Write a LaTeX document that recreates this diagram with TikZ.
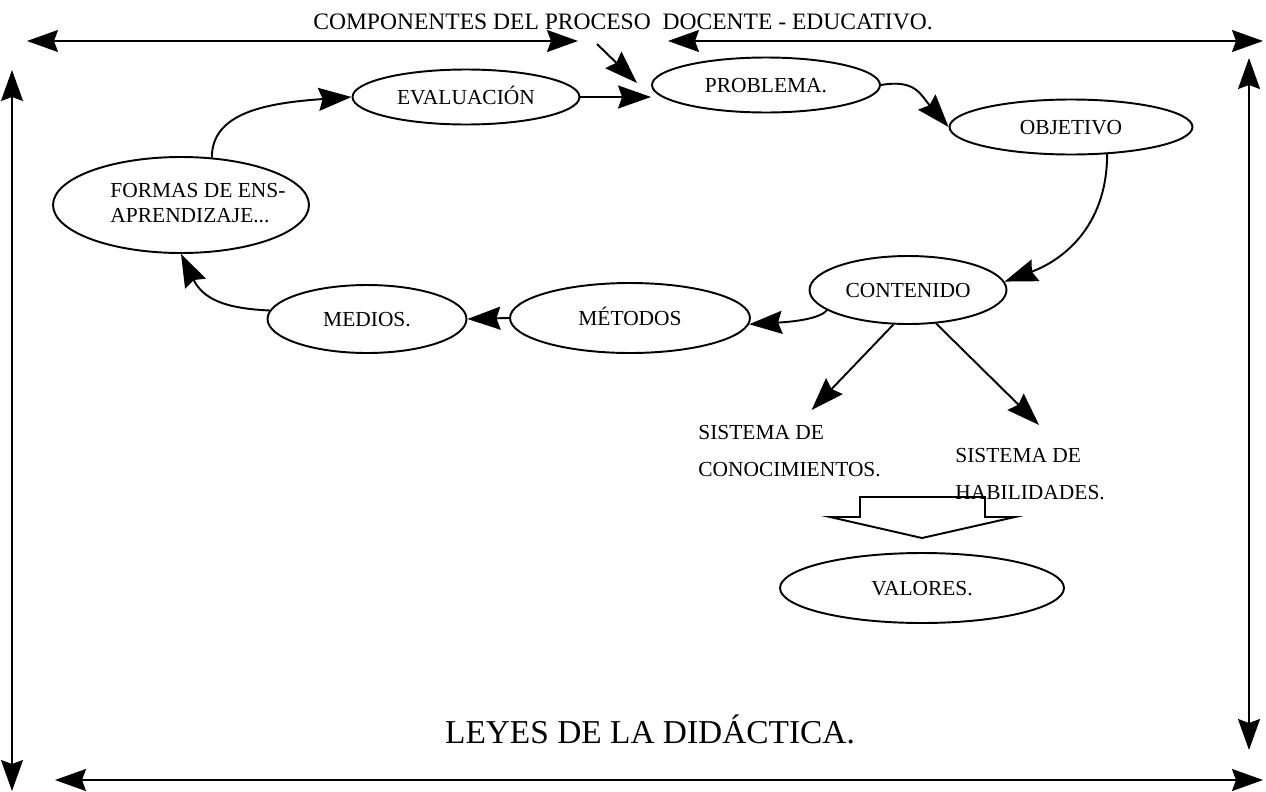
\documentclass[tikz,border=0pt]{standalone}
\usepackage{fontspec}
\setmainfont{Liberation Serif}
\usetikzlibrary{arrows.meta,calc,shapes.geometric}

\begin{document}
\begin{tikzpicture}[x=0.02cm, y=-0.02cm,
		arr/.style={-{Stealth[length=0.66cm, width=0.46cm, inset=0.08cm]}, line width=1.1pt},
		twoway/.style={{Stealth[length=0.62cm, width=0.44cm, inset=0.08cm]}-{Stealth[length=0.62cm, width=0.44cm, inset=0.08cm]}, line width=1.1pt},
		oval/.style={ellipse, draw, line width=1.1pt, inner sep=0pt, font=\fontsize{12.2}{14.2}\selectfont, text height=8.1pt, text depth=0pt},
		txt/.style={inner sep=0pt, font=\fontsize{12.2}{21}\selectfont, align=left}]
			%%%%% START %%%%%
			
			\useasboundingbox (0, 0) rectangle (1266, 791);
			
			\node[inner sep=0pt, anchor=base, font=\fontsize{13.4}{16}\selectfont] (title) at (623, 30) {COMPONENTES DEL PROCESO\ \ DOCENTE - EDUCATIVO.};
			\node[inner sep=0pt, anchor=base, font=\fontsize{19}{22}\selectfont] (leyes) at (650, 743) {LEYES DE LA DIDÁCTICA.};
			
			\draw[twoway] (27, 41) -- (578, 41);
			\draw[twoway] (668, 41) -- (1263, 41);
			\draw[twoway] (12, 70) -- (12, 791);
			\draw[twoway] (1249, 58) -- (1249, 750);
			\draw[twoway] (55, 780) -- (1263, 780);
			
			\node[oval, minimum width=4.54cm, minimum height=1.1cm] (eval) at (466, 97) {EVALUACIÓN};
			\node[oval, minimum width=4.56cm, minimum height=1.1cm] (prob) at (766, 85) {PROBLEMA.};
			\node[oval, minimum width=4.86cm, minimum height=1.1cm] (obj) at (1071, 127) {OBJETIVO};
			\node[oval, minimum width=5.12cm, minimum height=1.92cm] (formas) at (181, 205) {};
			\node[txt, font=\fontsize{12.2}{14.2}\selectfont] (formastxt) at (198, 203) {FORMAS DE ENS-\\APRENDIZAJE...};
			\node[oval, minimum width=3.94cm, minimum height=1.36cm] (cont) at (908, 290) {CONTENIDO};
			\node[oval, minimum width=4.8cm, minimum height=1.4cm] (met) at (630, 318) {MÉTODOS};
			\node[oval, minimum width=3.98cm, minimum height=1.36cm] (med) at (367, 319) {MEDIOS.};
			\node[oval, minimum width=5.68cm, minimum height=1.4cm] (val) at (922, 588) {VALORES.};
			
			\node[txt, anchor=north west] (sis1) at (698, 425) {SISTEMA DE\\CONOCIMIENTOS.};
			\node[txt, anchor=north west] (sis2) at (955, 448) {SISTEMA DE\\HABILIDADES.};
			
			\coordinate (diagtop) at (597, 44);
			\draw[arr] (diagtop) -- ($(prob.west)+(-14, -2)$);
			
			\draw[arr] (formas.57) .. controls +(0, -45) and +(-85, 6) .. (eval.west);
			\draw[arr] (eval.east) -- (eval.east -| prob.west);
			\draw[arr] (prob.east) .. controls +(35, -6) and +(-28, -32) .. (obj.west);
			\draw[arr] (obj.323) .. controls +(0, 75) and +(55, -20) .. (cont.5);
			\draw[arr] (cont.194) .. controls +(-8, 10) and +(35, -2) .. (met.-3);
			\draw[arr] (met.west) -- (med.east);
			\draw[arr] (med.175) .. controls +(-45, -2) and +(22, 45) .. (formas.south);
			
			\draw[arr] (cont.247) -- ($(sis1.north)+(22, -15)$);
			\draw[arr] (cont.-50) -- ($(sis2.north)+(9, -23)$);
			
			\draw[line width=1.1pt] (860, 497) -- (985, 497) -- (985, 517) -- (1015, 517) -- (922, 538) -- (830, 517) -- (860, 517) -- cycle;
			
			%%%%% END %%%%%
		\end{tikzpicture}
\end{document}
